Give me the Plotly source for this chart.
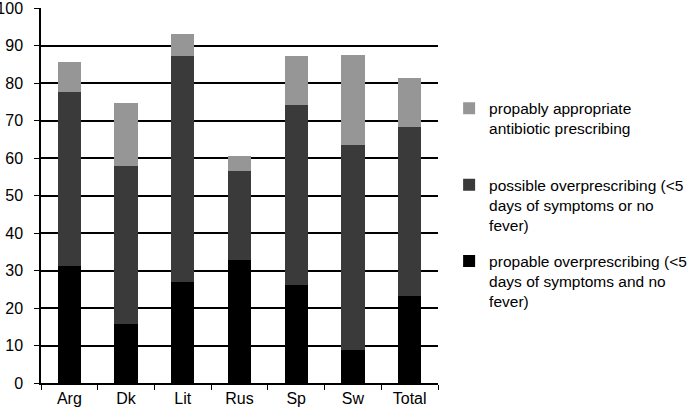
import plotly.graph_objects as go

countries = ['Arg', 'Dk', 'Lit', 'Rus', 'Sp', 'Sw', 'Total']
propable = [31.1, 15.8, 26.9, 32.9, 26.2, 8.8, 23.2]
possible = [46.6, 42.1, 60.4, 23.6, 48.0, 54.7, 45.1]
appropriate = [7.9, 16.7, 5.9, 4.1, 13.0, 23.9, 13.1]

names = [
    'propable overprescribing (&lt;5<br>days of symptoms and no<br>fever)',
    'possible overprescribing (&lt;5<br>days of symptoms or no<br>fever)',
    'propably appropriate<br>antibiotic prescribing<br> ',
]
colors = ['#000000', '#3a3a3a', '#969696']

fig = go.Figure()
for vals, name, col, grp, rank in zip([propable, possible, appropriate], names, colors,
                                      ['a', 'b', 'c'], [3, 2, 1]):
    fig.add_bar(x=countries, y=vals, name=name, marker_color=col,
                marker_line_width=0, legendgroup=grp, legendrank=rank)

fig.update_layout(
    barmode='stack',
    bargap=0.59,
    width=700, height=416,
    margin=dict(l=41, r=262, t=8, b=33),
    plot_bgcolor='white',
    paper_bgcolor='white',
    font=dict(family='Liberation Sans, Arial', size=16, color='black'),
    showlegend=True,
    legend=dict(
        x=1.028, y=0.777, xanchor='left', yanchor='top',
        traceorder='grouped',
        tracegroupgap=13,
        valign='top',
        font=dict(size=15.5),
        itemwidth=30,
    ),
)
fig.update_yaxes(
    range=[0, 100.05], tickvals=list(range(0, 101, 10)),
    showgrid=True, gridcolor='black', gridwidth=1.5,
    zeroline=False, automargin=False, ticklabeloverflow='allow',
    showline=True, linecolor='black', linewidth=1.5,
    ticks='outside', ticklen=5, tickcolor='black',
    ticklabelstandoff=8,
)
fig.update_xaxes(
    showline=True, linecolor='black', linewidth=1.5,
    ticks='outside', ticklen=5, tickcolor='black',
    tickson='boundaries', automargin=False,
)

# drop the default 8px body margin so the figure fills the window
fig.write_html("out.html", config={'displayModeBar': False},
               post_script="document.body.style.margin = '0';")
